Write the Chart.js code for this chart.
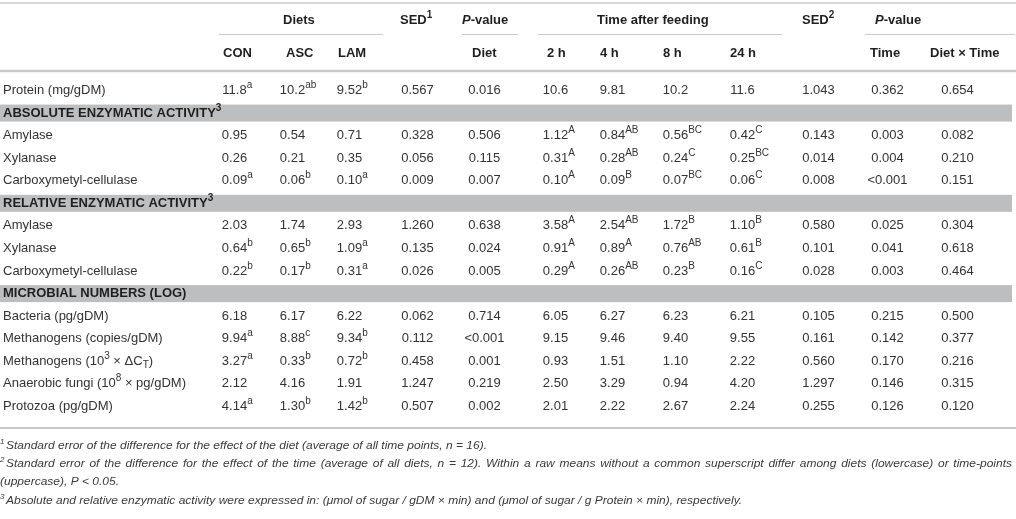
<!DOCTYPE html>
<html><head><meta charset="utf-8">
<script src="https://cdn.jsdelivr.net/npm/chart.js@4/dist/chart.umd.min.js"></script>
<style>html,body{margin:0;padding:0;background:#fff;overflow:hidden}#c{display:block}</style>
</head><body><canvas id="c" width="1016" height="519"></canvas>
<script>
// ---------------- DATA ----------------
const groupHeaders = ["Diets", "SED^{1}", "*{P}-value", "Time after feeding", "SED^{2}", "*{P}-value"];
const columnHeaders = ["CON", "ASC", "LAM", "Diet", "2 h", "4 h", "8 h", "24 h", "Time", "Diet × Time"];
const rowLabels = [
  "Protein (mg/gDM)",
  "Amylase", "Xylanase", "Carboxymetyl-cellulase",
  "Amylase", "Xylanase", "Carboxymetyl-cellulase",
  "Bacteria (pg/gDM)", "Methanogens (copies/gDM)", "Methanogens (10^{3} × ΔC_{T})",
  "Anaerobic fungi (10^{8} × pg/gDM)", "Protozoa (pg/gDM)"
];
const sectionTitles = ["ABSOLUTE ENZYMATIC ACTIVITY^{3}", "RELATIVE ENZYMATIC ACTIVITY^{3}", "MICROBIAL NUMBERS (LOG)"];
const sectionStartRows = [1, 4, 7];

const con      = ["11.8^{a}", "0.95", "0.26", "0.09^{a}", "2.03", "0.64^{b}", "0.22^{b}", "6.18", "9.94^{a}", "3.27^{a}", "2.12", "4.14^{a}"];
const asc      = ["10.2^{ab}", "0.54", "0.21", "0.06^{b}", "1.74", "0.65^{b}", "0.17^{b}", "6.17", "8.88^{c}", "0.33^{b}", "4.16", "1.30^{b}"];
const lam      = ["9.52^{b}", "0.71", "0.35", "0.10^{a}", "2.93", "1.09^{a}", "0.31^{a}", "6.22", "9.34^{b}", "0.72^{b}", "1.91", "1.42^{b}"];
const sedDiet  = ["0.567", "0.328", "0.056", "0.009", "1.260", "0.135", "0.026", "0.062", "0.112", "0.458", "1.247", "0.507"];
const pDiet    = ["0.016", "0.506", "0.115", "0.007", "0.638", "0.024", "0.005", "0.714", "<0.001", "0.001", "0.219", "0.002"];
const h2       = ["10.6", "1.12^{A}", "0.31^{A}", "0.10^{A}", "3.58^{A}", "0.91^{A}", "0.29^{A}", "6.05", "9.15", "0.93", "2.50", "2.01"];
const h4       = ["9.81", "0.84^{AB}", "0.28^{AB}", "0.09^{B}", "2.54^{AB}", "0.89^{A}", "0.26^{AB}", "6.27", "9.46", "1.51", "3.29", "2.22"];
const h8       = ["10.2", "0.56^{BC}", "0.24^{C}", "0.07^{BC}", "1.72^{B}", "0.76^{AB}", "0.23^{B}", "6.23", "9.40", "1.10", "0.94", "2.67"];
const h24      = ["11.6", "0.42^{C}", "0.25^{BC}", "0.06^{C}", "1.10^{B}", "0.61^{B}", "0.16^{C}", "6.21", "9.55", "2.22", "4.20", "2.24"];
const sedTime  = ["1.043", "0.143", "0.014", "0.008", "0.580", "0.101", "0.028", "0.105", "0.161", "0.560", "1.297", "0.255"];
const pTime    = ["0.362", "0.003", "0.004", "<0.001", "0.025", "0.041", "0.003", "0.215", "0.142", "0.170", "0.146", "0.126"];
const pDietTime= ["0.654", "0.082", "0.210", "0.151", "0.304", "0.618", "0.464", "0.500", "0.377", "0.216", "0.315", "0.120"];

const footnoteMarks = ["1", "2", "", "3"];
const footnotes = [
  "Standard error of the difference for the effect of the diet (average of all time points, n = 16).",
  "Standard error of the difference for the effect of the time (average of all diets, n = 12). Within a raw means without a common superscript differ among diets (lowercase) or time-points",
  "(uppercase), P < 0.05.",
  "Absolute and relative enzymatic activity were expressed in: (μmol of sugar / gDM × min) and (μmol of sugar / g Protein × min), respectively."
];
const footnoteJustified = [false, true, false, false];

// ---------------- LAYOUT / STYLE ----------------
const columns = [con, asc, lam, sedDiet, pDiet, h2, h4, h8, h24, sedTime, pTime, pDietTime];
const L = {
  labelX: 3,
  valueCenters: [234.5, 292.5, 349.5, 417.5, 484.5, 555.5, 612.5, 675.5, 742.5, 818.5, 887.5, 957.5],
  groupLeft: [283, 400, 462, 597, 802, 875], groupY: 20.5,
  headLeft: [223, 286, 338, 472, 547, 600, 663, 730, 870, 930], headY: 53,
  underlines: [[219, 383], [462, 518], [538, 782], [865, 1015]], underY: 34.5,
  topLineY: 3, thickY: 71, bottomY: 428,
  row0: 90.5, rowStep: 22.57, bandH: 17, bandRight: 1012,
  footY: [446, 464, 482, 501], footX: 6, foot1Width: 481, footJustifyWidth: 1006
};
const FONT = '"Liberation Sans", Arial, Helvetica, sans-serif';
const C_TEXT = '#333333', C_HEAD = '#1f1f1f', C_LINE = '#c9c9c9', C_BAND = '#bdbec0';

// ---------------- RICH TEXT ----------------
function parseRich(s) {
  const segs = []; const re = /([\^_*])\{([^}]*)\}/g; let last = 0, m;
  while ((m = re.exec(s))) {
    if (m.index > last) segs.push({ t: s.slice(last, m.index), k: '' });
    segs.push({ t: m[2], k: m[1] }); last = re.lastIndex;
  }
  if (last < s.length) segs.push({ t: s.slice(last), k: '' });
  return segs;
}
function segFont(seg, base) {
  const small = seg.k === '^' || seg.k === '_';
  const size = small ? Math.round(base.size * 0.77) : base.size;
  const it = base.italic || seg.k === '*';
  return (it ? 'italic ' : '') + (base.bold ? 'bold ' : '') + size + 'px ' + FONT;
}
function segDy(seg, base) {
  if (seg.k === '^') return -base.size * 0.40;
  if (seg.k === '_') return base.size * 0.27;
  return 0;
}
function drawRich(ctx, s, x, y, base, mode) {
  const segs = parseRich(s);
  const widths = segs.map(sg => { ctx.font = segFont(sg, base); return ctx.measureText(sg.t).width; });
  let x0 = x;
  if (mode === 'centerMain') {
    let mw = 0; for (let i = 0; i < segs.length; i++) { if (segs[i].k === '^') break; mw += widths[i]; }
    x0 = x - mw / 2;
  }
  ctx.textBaseline = 'middle'; ctx.textAlign = 'left'; ctx.fillStyle = base.color;
  let cx = x0;
  segs.forEach((sg, i) => { ctx.font = segFont(sg, base); ctx.fillText(sg.t, cx, y + segDy(sg, base)); cx += widths[i]; });
  return cx - x0;
}

// ---------------- TABLE PLUGIN ----------------
const tablePlugin = {
  id: 'table',
  afterDraw(chart) {
    const ctx = chart.ctx, xs = chart.scales.x, ys = chart.scales.y;
    const X = v => xs.getPixelForValue(v), Y = v => ys.getPixelForValue(v);
    ctx.save();
    // rules
    ctx.strokeStyle = C_LINE;
    const hline = (x1, x2, y, w) => { ctx.lineWidth = w; ctx.beginPath(); ctx.moveTo(X(x1), Y(y)); ctx.lineTo(X(x2), Y(y)); ctx.stroke(); };
    hline(0, 1016, L.topLineY, 1.5);
    L.underlines.forEach(u => hline(u[0], u[1], L.underY, 1.2));
    hline(0, 1016, L.thickY, 2.5);
    hline(0, 1016, L.bottomY, 2);

    // headers
    const hb = { size: 13, bold: true, italic: false, color: C_HEAD };
    groupHeaders.forEach((h, i) => drawRich(ctx, h, X(L.groupLeft[i]), Y(L.groupY), hb, 'left'));
    columnHeaders.forEach((h, i) => drawRich(ctx, h, X(L.headLeft[i]), Y(L.headY), hb, 'left'));

    // body rows (data rows interleaved with section bands)
    const body = { size: 13, bold: false, italic: false, color: C_TEXT };
    let slot = 0;
    for (let r = 0; r < rowLabels.length; r++) {
      const si = sectionStartRows.indexOf(r);
      if (si >= 0) {
        const yb = L.row0 + slot * L.rowStep;
        ctx.fillStyle = C_BAND;
        ctx.fillRect(X(0), Y(yb - L.bandH / 2), X(L.bandRight) - X(0), Y(yb + L.bandH / 2) - Y(yb - L.bandH / 2));
        drawRich(ctx, sectionTitles[si], X(L.labelX), Y(yb), { size: 13, bold: true, italic: false, color: C_HEAD }, 'left');
        slot++;
      }
      const yr = L.row0 + slot * L.rowStep;
      drawRich(ctx, rowLabels[r], X(L.labelX), Y(yr), body, 'left');
      columns.forEach((col, c) => drawRich(ctx, col[r], X(L.valueCenters[c]), Y(yr), body, 'centerMain'));
      slot++;
    }

    // footnotes (condensed italic; the wrapped line of footnote 2 is justified)
    const fb = { size: 11, bold: false, italic: true, color: '#3a3a3a' };
    ctx.font = 'italic 11px ' + FONT;
    const sx = L.foot1Width / ctx.measureText(footnotes[0]).width;
    footnotes.forEach((t, i) => {
      const y = Y(L.footY[i]);
      if (footnoteMarks[i]) drawRich(ctx, '^{' + footnoteMarks[i] + '}', X(0), y, fb, 'left');
      ctx.save();
      ctx.translate(X(footnoteMarks[i] ? L.footX : 0), y);
      ctx.scale(sx, 1);
      if (footnoteJustified[i]) {
        ctx.font = 'italic 11px ' + FONT;
        const words = t.split(' ');
        const ww = words.map(w => ctx.measureText(w).width);
        const total = ww.reduce((a, b) => a + b, 0);
        const gap = (L.footJustifyWidth / sx - total) / (words.length - 1);
        let cx = 0;
        words.forEach((w, k) => { drawRich(ctx, w, cx, 0, fb, 'left'); cx += ww[k] + gap; });
      } else {
        drawRich(ctx, t, 0, 0, fb, 'left');
      }
      ctx.restore();
    });
    ctx.restore();
  }
};

new Chart(document.getElementById('c'), {
  type: 'scatter',
  data: { datasets: [] },
  options: {
    responsive: false, animation: false, events: [],
    layout: { padding: 0 },
    plugins: { legend: { display: false }, tooltip: { enabled: false } },
    scales: {
      x: { type: 'linear', min: 0, max: 1016, display: false },
      y: { type: 'linear', min: 0, max: 519, reverse: true, display: false }
    }
  },
  plugins: [tablePlugin]
});
</script></body></html>
